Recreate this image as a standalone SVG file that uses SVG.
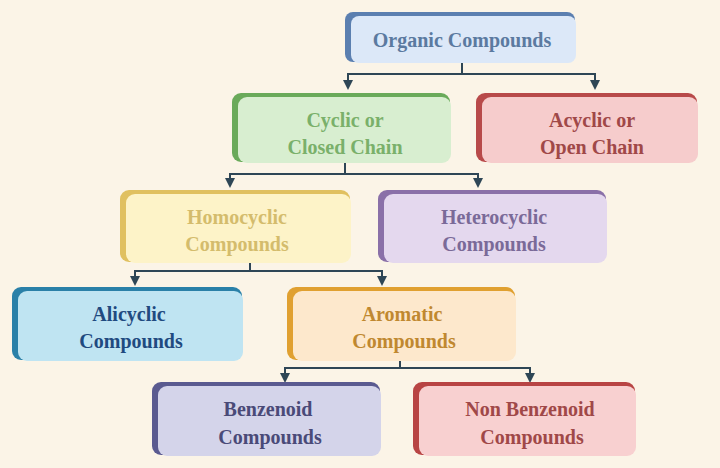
<svg xmlns="http://www.w3.org/2000/svg" width="720" height="468" viewBox="0 0 720 468">
<defs>
<marker id="ah" viewBox="0 0 10 10" refX="2" refY="5" markerWidth="5" markerHeight="5" orient="auto" markerUnits="strokeWidth">
<path d="M0,0 L10,5 L0,10 Z" fill="#2e4656"/>
</marker>
<style>
text{font-family:"Liberation Serif","Times New Roman",serif;font-weight:bold;font-size:20px;text-anchor:middle}
.c{fill:none;stroke:#2e4656;stroke-width:2}
.a{fill:none;stroke:#2e4656;stroke-width:2;marker-end:url(#ah)}
</style>
</defs>
<rect width="720" height="468" fill="#fbf4e7"/>
<g id="connectors">
<path class="c" d="M462,62 V74 M347,74 H596"/>
<path class="a" d="M348,73 V82"/><path class="a" d="M595,73 V82"/>
<path class="c" d="M345,162 V174 M229,174 H479"/>
<path class="a" d="M230,173 V180"/><path class="a" d="M478,173 V180"/>
<path class="c" d="M250,262 V271 M134,271 H383"/>
<path class="a" d="M135,270 V278"/><path class="a" d="M382,270 V278"/>
<path class="c" d="M400,360 V368 M284,368 H531"/>
<path class="a" d="M285,367 V375"/><path class="a" d="M530,367 V375"/>
</g>
<g id="organic">
<rect x="345" y="12" width="230" height="50" rx="8" fill="#5b7fb0"/>
<rect x="351" y="16" width="225" height="47" rx="8" fill="#dce8f8"/>
<text x="462" y="47" fill="#5b7aa0">Organic Compounds</text>
</g>
<g id="cyclic">
<rect x="232" y="93" width="218" height="69" rx="9" fill="#6aaa5a"/>
<rect x="238" y="97" width="213" height="66" rx="9" fill="#d8eed0"/>
<text x="345" y="127" fill="#7ab06a">Cyclic or</text>
<text x="345" y="154" fill="#7ab06a">Closed Chain</text>
</g>
<g id="acyclic">
<rect x="476" y="93" width="221" height="69" rx="9" fill="#b84a4a"/>
<rect x="482" y="97" width="216" height="66" rx="9" fill="#f6cccc"/>
<text x="592" y="127" fill="#a04848">Acyclic or</text>
<text x="592" y="154" fill="#a04848">Open Chain</text>
</g>
<g id="homocyclic">
<rect x="120" y="190" width="230" height="72" rx="9" fill="#e0c060"/>
<rect x="126" y="194" width="225" height="69" rx="9" fill="#fdf3c8"/>
<text x="237" y="224" fill="#d4bc6c">Homocyclic</text>
<text x="237" y="251" fill="#d4bc6c">Compounds</text>
</g>
<g id="heterocyclic">
<rect x="378" y="190" width="228" height="72" rx="9" fill="#8a70a8"/>
<rect x="384" y="194" width="223" height="69" rx="9" fill="#e4d8ee"/>
<text x="494" y="224" fill="#7a6a98">Heterocyclic</text>
<text x="494" y="251" fill="#7a6a98">Compounds</text>
</g>
<g id="alicyclic">
<rect x="12" y="287" width="230" height="73" rx="9" fill="#2a80a8"/>
<rect x="18" y="291" width="225" height="70" rx="9" fill="#bfe4f2"/>
<text x="129" y="321" fill="#1f4a80">Alicyclic</text>
<text x="131" y="348" fill="#1f4a80">Compounds</text>
</g>
<g id="aromatic">
<rect x="287" y="287" width="228" height="73" rx="9" fill="#e0a030"/>
<rect x="293" y="291" width="223" height="70" rx="9" fill="#fde8cc"/>
<text x="402" y="321" fill="#c08830">Aromatic</text>
<text x="404" y="348" fill="#c08830">Compounds</text>
</g>
<g id="benzenoid">
<rect x="152" y="382" width="228" height="73" rx="9" fill="#5a5a90"/>
<rect x="158" y="386" width="223" height="70" rx="9" fill="#d4d4ea"/>
<text x="268" y="416" fill="#4a4a78">Benzenoid</text>
<text x="270" y="444" fill="#4a4a78">Compounds</text>
</g>
<g id="nonbenzenoid">
<rect x="413" y="382" width="222" height="73" rx="9" fill="#b84444"/>
<rect x="419" y="386" width="217" height="70" rx="9" fill="#f8d0d0"/>
<text x="530" y="416" fill="#a04848">Non Benzenoid</text>
<text x="532" y="444" fill="#a04848">Compounds</text>
</g>
</svg>
